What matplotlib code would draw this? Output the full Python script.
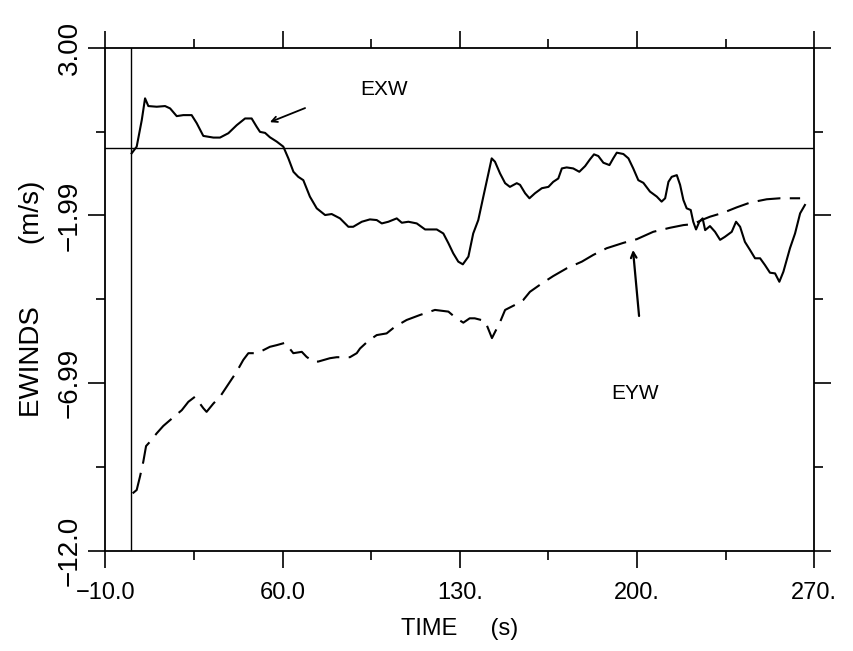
import matplotlib
matplotlib.use("Agg")
import matplotlib.pyplot as plt

plt.rcParams['font.family'] = ['Liberation Sans', 'DejaVu Sans']

# data: time (s) and wind (m/s)
exw_t = [0.4, 2.4, 4.4, 5.7, 7.0, 10.3, 13.6, 15.6, 18.2, 20.8, 24.1, 26.1, 28.7, 32.7,
         35.3, 38.6, 41.9, 45.2, 47.8, 49.8, 51.1, 53.1, 55.0, 57.7, 60.3, 62.3, 64.3,
         66.2, 68.2, 70.8, 73.5, 76.8, 79.4, 82.7, 86.0, 87.9, 91.3, 94.5, 97.2, 99.2,
         101.8, 105.1, 107.1, 109.7, 113.0, 116.3, 120.9, 123.5, 125.5, 127.4, 129.4,
         131.2, 133.4, 135.3, 137.3, 139.3, 141.3, 142.6, 143.9, 145.9, 147.9, 149.8,
         152.5, 153.8, 155.8, 157.5, 159.7, 162.4, 165.0, 166.9, 168.9, 170.3, 172.2,
         174.8, 177.2, 179.5, 181.4, 183.0, 184.7, 186.7, 189.1, 190.6, 192.0, 194.6,
         196.6, 198.5, 200.5, 202.5, 205.1, 207.8, 209.7, 211.1, 212.4, 213.7, 215.7,
         217.0, 218.3, 219.6, 221.2, 222.2, 223.3, 224.6, 225.9, 226.9, 228.8, 230.8,
         232.8, 234.7, 237.4, 239.1, 240.7, 242.6, 244.6, 246.6, 248.6, 250.5, 252.5,
         254.5, 256.2, 257.8, 259.1, 260.4, 262.4, 264.4, 266.3]
exw_v = [-0.15, 0.05, 0.84, 1.49, 1.26, 1.24, 1.26, 1.19, 0.96, 0.99, 0.99, 0.75, 0.37, 0.32,
         0.32, 0.45, 0.69, 0.89, 0.89, 0.64, 0.49, 0.46, 0.33, 0.20, 0.05, -0.30, -0.70,
         -0.85, -0.95, -1.44, -1.79, -1.99, -1.96, -2.09, -2.34, -2.34, -2.19, -2.12, -2.14,
         -2.24, -2.19, -2.09, -2.22, -2.19, -2.24, -2.42, -2.42, -2.54, -2.83, -3.13, -3.38,
         -3.46, -3.23, -2.54, -2.14, -1.44, -0.75, -0.30, -0.40, -0.75, -1.04, -1.15,
         -1.04, -1.09, -1.34, -1.49, -1.34, -1.19, -1.15, -1.00, -0.90, -0.60, -0.57,
         -0.60, -0.70, -0.53, -0.33, -0.18, -0.23, -0.43, -0.50, -0.30, -0.13, -0.17,
         -0.30, -0.60, -0.95, -1.03, -1.29, -1.44, -1.59, -1.49, -1.00, -0.85, -0.80,
         -1.09, -1.54, -1.79, -1.84, -2.19, -2.42, -2.19, -2.09, -2.44, -2.32, -2.49,
         -2.73, -2.64, -2.49, -2.19, -2.34, -2.79, -3.03, -3.28, -3.28, -3.48, -3.71,
         -3.73, -3.98, -3.68, -3.33, -2.98, -2.54, -1.94, -1.69]

eyw_t = [0.8, 2.4, 3.7, 5.0, 6.1, 7.65, 10.3, 12.9, 16.9, 20.2, 22.8, 25.4, 28.7, 30.0,
         32.7, 35.3, 39.25, 41.9, 44.5, 46.5, 49.8, 52.4, 55.0, 57.7, 61.0, 64.25, 67.6,
         69.5, 72.1, 74.1, 78.7, 81.4, 86.6, 89.3, 90.6, 93.9, 97.2, 101.1, 104.4, 109.0,
         114.3, 120.2, 125.5, 128.3, 131.4, 133.9, 135.9, 140.0, 142.7, 145.9, 147.9,
         151.8, 155.1, 157.7, 162.4, 166.9, 172.2, 178.2, 182.7, 188.0, 194.6, 199.9,
         206.4, 213.0, 218.3, 222.2, 225.5, 228.8, 234.1, 239.4, 244.6, 251.2, 256.5,
         264.4]
eyw_v = [-10.29, -10.19, -9.79, -9.35, -8.88, -8.75, -8.50, -8.28, -8.02, -7.81, -7.56,
         -7.41, -7.75, -7.86, -7.61, -7.41, -6.96, -6.66, -6.31, -6.11, -6.11, -6.02,
         -5.92, -5.87, -5.80, -6.11, -6.07, -6.22, -6.36, -6.36, -6.26, -6.23, -6.23,
         -6.11, -5.97, -5.74, -5.57, -5.52, -5.32, -5.12, -4.97, -4.82, -4.87, -5.05,
         -5.20, -5.07, -5.07, -5.15, -5.66, -5.18, -4.82, -4.67, -4.52, -4.28, -4.03,
         -3.81, -3.58, -3.38, -3.18, -2.98, -2.82, -2.71, -2.49, -2.37, -2.29, -2.26,
         -2.14, -2.04, -1.92, -1.76, -1.62, -1.52, -1.49, -1.49]

xmajor = [-10, 60, 130, 200, 270]
xmajor_labels = ["\u221210.0", "60.0", "130.", "200.", "270."]
xminor = [25, 95, 165, 235]
ymajor = [3, -2, -7, -12]
ymajor_labels = ["3.00", "\u22121.99", "\u22126.99", "\u221212.0"]
yminor = [0.5, -4.5, -9.5]

fig = plt.figure(figsize=(8.54, 6.51), dpi=100)
ax = fig.add_axes([0.1233, 0.1541, 0.8302, 0.7726])

# reference lines at zero
ax.axhline(0, color="k", lw=1.0)
ax.axvline(0, color="k", lw=1.0)

ax.plot(exw_t, exw_v, color="k", lw=1.5)
ax.plot(eyw_t, eyw_v, color="k", lw=1.5, ls=(0, (11, 4.5)))

# curve labels with arrows
ax.text(100, 1.74, "EXW", fontsize=15, ha="center", va="center")
ax.annotate("", xy=(55.0, 0.78), xytext=(68.9, 1.20),
            arrowprops=dict(arrowstyle="->", lw=1.3, color="k",
                            shrinkA=0, shrinkB=0))
ax.text(199.2, -7.3, "EYW", fontsize=15, ha="center", va="center")
ax.annotate("", xy=(198.4, -3.03), xytext=(200.8, -5.0),
            arrowprops=dict(arrowstyle="->", lw=1.6, color="k",
                            shrinkA=0, shrinkB=0))

ax.set_xlim(-10, 270)
ax.set_ylim(-12, 3)

ax.set_xticks(xmajor)
ax.set_xticklabels(xmajor_labels, fontsize=17)
ax.set_xticks(xminor, minor=True)
ax.set_yticks(ymajor)
ax.set_yticklabels(ymajor_labels, fontsize=20, rotation=90, va="center")
ax.set_yticks(yminor, minor=True)

ax.tick_params(which="both", direction="out", top=True, right=True, width=1.2)
ax.tick_params(which="major", length=12.5)
ax.tick_params(which="minor", length=6.5)
ax.tick_params(axis="x", which="major", pad=10)
ax.tick_params(axis="y", which="major", pad=3.5)

for s in ax.spines.values():
    s.set_linewidth(1.3)

ax.set_xlabel("TIME     (s)", fontsize=17, labelpad=10)
ax.set_ylabel("EWINDS        (m/s)", fontsize=20, labelpad=9)

fig.savefig("out.png", dpi=100)
